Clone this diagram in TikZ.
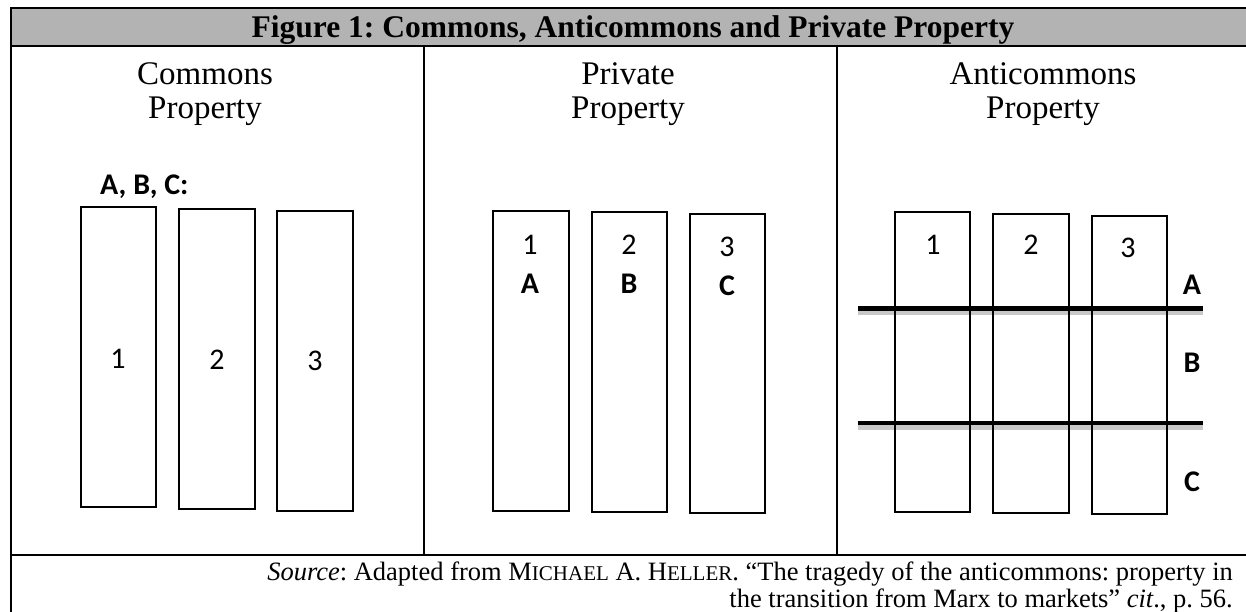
\documentclass[tikz,border=0pt]{standalone}
\usepackage{fontspec}
\setmainfont{Liberation Serif}
\newfontfamily\calib{Carlito}
\definecolor{bandgray}{HTML}{B3B3B3}
\definecolor{shadowgray}{HTML}{C8C8C8}
\newcommand\fakesc[1]{{\fontsize{21}{21}\selectfont #1}}
\frenchspacing
\tikzset{
  rule/.style={line width=2pt},
  plot/.style={draw, line width=2pt},
  lbl/.style={font=\calib\fontsize{30}{30}\selectfont, inner sep=0pt},
  blbl/.style={font=\calib\bfseries\fontsize{30}{30}\selectfont, inner sep=0pt},
  head/.style={font=\fontsize{33}{36}\selectfont, inner sep=0pt, anchor=base},
  ttl/.style={font=\bfseries\fontsize{31.5}{34}\selectfont, inner sep=0pt, anchor=base},
  src/.style={font=\fontsize{26.5}{28}\selectfont, inner sep=0pt, anchor=base east},
  bar/.style={line width=4.7pt},
  barshadow/.style={line width=4.5pt, draw=shadowgray}
}
\begin{document}
\begin{tikzpicture}[x=1pt,y=-1pt]
\useasboundingbox (0,0) rectangle (1246,612);
% frame
\fill[bandgray] (11,8) rectangle (1260,46);
\draw[line width=2.5pt] (10,8) -- (1260,8);
\draw[line width=2.5pt] (10,46) -- (1260,46);
\draw[rule] (11,7) -- (11,620);
\draw[rule] (424,46) -- (424,555);
\draw[rule] (837,46) -- (837,555);
\draw[rule] (11,555) -- (1260,555);
% title
\node[ttl] (title) at (633,37.5) {Figure 1: Commons, Anticommons and Private Property};
% headers
\node[head] (h1a) at (205,85) {Commons};
\node[head] (h1b) at (205,119) {Property};
\node[head] (h2a) at (628,85) {Private};
\node[head] (h2b) at (628,119) {Property};
\node[head] (h3a) at (1043,85) {Anticommons};
\node[head] (h3b) at (1043,119) {Property};
% commons
\node[blbl, anchor=base west] (abc) at (100,195) {A, B, C:};
\draw[plot] (80.7,207.3) rectangle (156,507);
\draw[plot] (179,209.3) rectangle (255,509);
\draw[plot] (277,210.7) rectangle (353,510.7);
\node[lbl] (c1) at (118,359) {1};
\node[lbl] (c2) at (217,360) {2};
\node[lbl] (c3) at (315,361) {3};
% private
\draw[plot] (492.7,210.7) rectangle (568.7,510.7);
\draw[plot] (592,212.3) rectangle (667.3,512);
\draw[plot] (690,214) rectangle (765.3,513.3);
\node[lbl] (p1) at (530,245) {1};
\node[lbl] (p2) at (629,245) {2};
\node[lbl] (p3) at (727,247) {3};
\node[blbl] (pA) at (530,284) {A};
\node[blbl] (pB) at (629,284) {B};
\node[blbl] (pC) at (727,286) {C};
% anticommons
\draw[barshadow] (858,312.8) -- (1203,312.8);
\draw[barshadow] (858,427.5) -- (1203,427.5);
\draw[plot] (895,212.3) rectangle (970,511.7);
\draw[plot] (993.3,214) rectangle (1068.7,513.3);
\draw[plot] (1091.7,215.7) rectangle (1166.7,514.3);
\draw[bar] (858,308.3) -- (1203,308.3);
\draw[bar] (858,423) -- (1203,423);
\node[lbl] (a1) at (933,245) {1};
\node[lbl] (a2) at (1031,245) {2};
\node[lbl] (a3) at (1128,248) {3};
\node[blbl] (aA) at (1192,285) {A};
\node[blbl] (aB) at (1192,363) {B};
\node[blbl] (aC) at (1192,482) {C};
% source
\node[src] (s1) at (1233,580) {\textit{Source}: Adapted from M\fakesc{ICHAEL} A. H\fakesc{ELLER}. “The tragedy of the anticommons: property in};
\node[src] (s2) at (1233,607) {the transition from Marx to markets” \textit{cit}., p. 56.};
\end{tikzpicture}
\end{document}
